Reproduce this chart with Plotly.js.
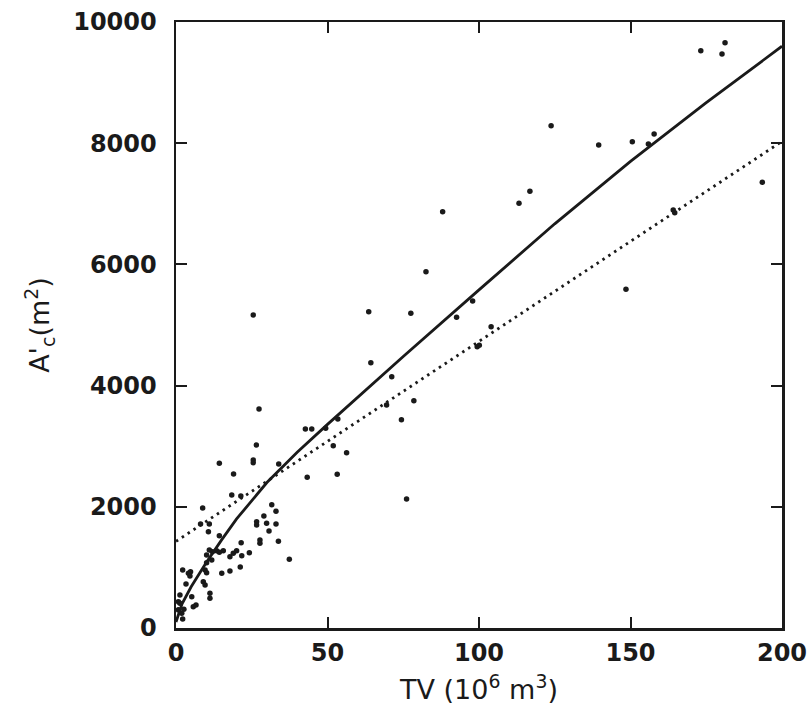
<!DOCTYPE html>
<html>
<head>
<meta charset="utf-8">
<script src="https://cdn.plot.ly/plotly-3.0.1.min.js"></script>
<style>html,body{margin:0;padding:0;background:#fff;}#chart{width:811px;height:725px;}</style>
</head>
<body>
<div id="chart"></div>
<script>
// Observed data points: TV (10^6 m^3) and A'c (m^2)
var tvObs = [25.5,27.4,26.5,25.5,25.5,14.3,33.9,19.0,8.8,18.4,21.4,31.6,33.0,29.0,
  42.7,44.8,49.4,53.4,51.9,56.3,43.3,53.2,74.4,78.5,76.1,69.5,82.5,77.5,97.9,92.6,
  104.0,99.4,100.1,71.2,88.0,113.2,116.8,123.8,139.5,150.6,157.8,155.9,148.5,164.1,
  164.6,173.2,180.2,181.2,193.5,63.6,64.3,
  8.1,11.0,10.7,14.3,30.7,26.6,26.6,29.9,33.0,27.7,27.7,33.8,37.4,21.5,24.2,21.7,
  17.8,18.9,20.0,15.1,17.8,21.2,11.0,13.4,15.6,10.1,11.8,10.1,9.6,10.1,9.0,9.6,
  11.2,11.2,2.2,4.1,4.8,3.3,1.3,5.2,5.7,6.6,2.6,0.8,1.9,12.0,14.3,4.6,1.3,0.8,2.2];
var acObs = [5165,3614,3020,2772,2728,2718,2706,2541,1980,2195,2178,2035,1925,1850,
  3284,3284,3295,3449,3008,2893,2487,2536,3437,3751,2129,3680,5880,5193,5396,5127,
  4972,4642,4665,4147,6870,7008,7206,8289,7970,8025,8152,7987,5589,6898,
  6854,9526,9472,9659,7355,5220,4378,
  1716,1716,1590,1523,1601,1755,1700,1727,1716,1452,1397,1430,1133,1408,1243,1193,
  1177,1233,1276,903,941,1007,1287,1276,1276,1205,1122,1078,957,913,764,710,
  573,490,957,903,929,726,545,517,352,380,308,434,242,1260,1250,860,410,300,150];

// Solid fitted curve
var tvCurve = [0,2,5,10,15,20,30,40,50,75,100,125,150,175,200];
var acCurve = [100,400,680,1080,1450,1800,2400,2900,3360,4480,5580,6670,7700,8670,9600];

// Dotted linear fit
var tvLine = [0,200];
var acLine = [1430,8030];

var xTicks = [0,50,100,150,200];
var yTicks = [0,2000,4000,6000,8000,10000];

var ink = '#1a1a1a';
var fam = 'DejaVu Sans, Liberation Sans, Arial, sans-serif';
var traces = [
  {x: tvObs, y: acObs, mode: 'markers', type: 'scatter',
   marker: {color: ink, size: 5.5}, hoverinfo: 'x+y'},
  {x: tvCurve, y: acCurve, mode: 'lines', type: 'scatter',
   line: {color: ink, width: 2.8}},
  {x: tvLine, y: acLine, mode: 'lines', type: 'scatter',
   line: {color: ink, width: 2.8, dash: '2.5px,4.5px'}}
];

var tickFont = {family: fam, size: 24, color: ink, weight: 'bold'};
var titleFont = {family: fam, size: 27, color: ink};
var layout = {
  width: 811, height: 725,
  margin: {l: 176, r: 29, t: 22, b: 97},
  paper_bgcolor: '#fff', plot_bgcolor: '#fff',
  showlegend: false,
  xaxis: {
    range: [0, 200], tickvals: xTicks, ticktext: xTicks.map(String),
    ticks: 'inside', ticklen: 11, tickwidth: 2, tickcolor: ink,
    showline: true, linecolor: ink, linewidth: 2.5, mirror: 'ticks',
    showgrid: false, zeroline: false, tickfont: tickFont, ticklabelstandoff: 2,
    title: {text: 'TV (10<sup>6</sup> m<sup>3</sup>)', standoff: 14, font: titleFont}
  },
  yaxis: {
    range: [0, 10000], tickvals: yTicks, ticktext: yTicks.map(String),
    ticks: 'inside', ticklen: 11, tickwidth: 2, tickcolor: ink,
    showline: true, linecolor: ink, linewidth: 2.5, mirror: 'ticks',
    showgrid: false, zeroline: false, tickfont: tickFont, ticklabelstandoff: 12,
    title: {text: "A'<sub>c</sub>(m<sup>2</sup>)", standoff: 16, font: titleFont}
  }
};
Plotly.newPlot('chart', traces, layout, {staticPlot: true, displayModeBar: false});
</script>
</body>
</html>
